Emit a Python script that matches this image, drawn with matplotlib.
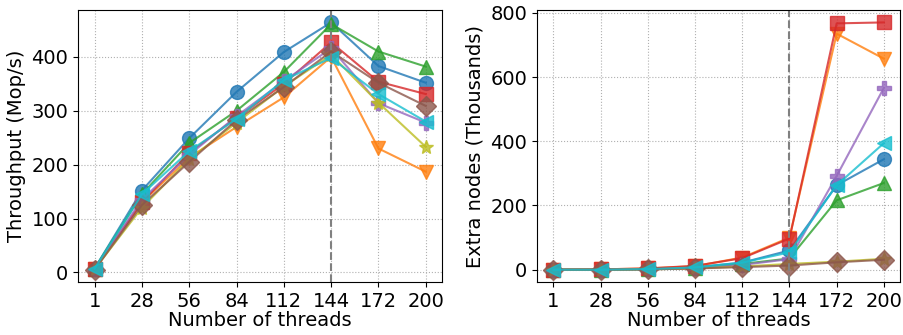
import matplotlib
matplotlib.use('Agg')
import matplotlib.pyplot as plt

# Thread counts on the x axis (categorical positions)
threads = ['1', '28', '56', '84', '112', '144', '172', '200']

# Throughput (Mop/s) per variant
tput_blue = [7, 152, 249, 335, 409, 464, 383, 352]
tput_orange = [6, 130, 213, 270, 325, 400, 230, 187]
tput_green = [7, 145, 240, 300, 372, 461, 410, 382]
tput_red = [6, 130, 222, 287, 350, 427, 354, 331]
tput_purple = [6, 135, 218, 290, 355, 416, 314, 278]
tput_brown = [5, 125, 205, 283, 344, 410, 352, 309]
tput_olive = [6, 120, 210, 278, 345, 404, 315, 233]
tput_cyan = [7, 145, 225, 285, 357, 398, 331, 280]

# Extra nodes (thousands) per variant
extra_blue = [0, 0, 2, 8, 22, 60, 263, 344]
extra_orange = [0, 1, 4, 11, 38, 100, 735, 657]
extra_green = [0, 0, 2, 6, 18, 35, 216, 270]
extra_red = [0, 1, 4, 12, 36, 97, 767, 770]
extra_purple = [0, 0, 1, 5, 15, 33, 292, 566]
extra_brown = [0, 0, 1, 4, 8, 13, 23, 31]
extra_olive = [0, 0, 1, 4, 10, 18, 25, 34]
extra_cyan = [0, 0, 2, 7, 22, 54, 263, 394]

styles = [('tab:blue', 'o'), ('tab:orange', 'v'), ('tab:green', '^'), ('tab:red', 's'),
          ('tab:purple', 'P'), ('tab:olive', '*'), ('tab:brown', 'D'), ('tab:cyan', '<')]
tput = [tput_blue, tput_orange, tput_green, tput_red, tput_purple, tput_olive, tput_brown, tput_cyan]
extra = [extra_blue, extra_orange, extra_green, extra_red, extra_purple, extra_olive, extra_brown, extra_cyan]

plt.rcParams['font.size'] = 14

fig = plt.figure(figsize=(9.04, 3.35), dpi=100)
ax1 = fig.add_axes([0.0863, 0.158, 0.403, 0.812])
ax2 = fig.add_axes([0.594, 0.158, 0.402, 0.812])

x = list(range(len(threads)))
for ax, data in ((ax1, tput), (ax2, extra)):
    for (color, marker), ys in zip(styles, data):
        ax.plot(x, ys, color=color, marker=marker, markersize=10, linewidth=1.5, alpha=0.8)
    ax.axvline(5, color='gray', linestyle='--', linewidth=1.5)
    ax.set_xticks(x)
    ax.set_xticklabels(threads)
    ax.grid(True, linestyle=':')
    ax.set_xlabel('Number of threads', labelpad=0)

ax1.set_ylabel('Throughput (Mop/s)')
ax2.set_ylabel('Extra nodes (Thousands)')
ax1.set_yticks([0, 100, 200, 300, 400])
ax2.set_yticks([0, 200, 400, 600, 800])

fig.savefig('out.png', dpi=100)
